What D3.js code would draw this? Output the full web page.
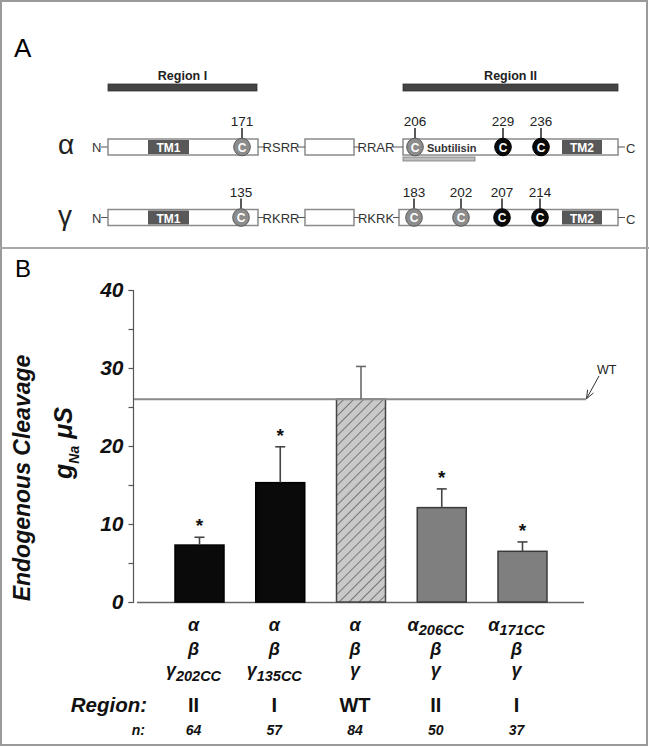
<!DOCTYPE html>
<html><head><meta charset="utf-8">
<script src="https://cdn.jsdelivr.net/npm/d3@7"></script>
<style>
html,body{margin:0;padding:0;background:#fff;}
svg{display:block;}
text{font-family:"Liberation Sans",Arial,sans-serif;}
</style></head>
<body>
<script>
// ---------- DATA ----------
const categories = ["α β γ202CC", "α β γ135CC", "α β γ", "α206CC β γ", "α171CC β γ"];
const alphaSubs = ["", "", "", "206CC", "171CC"];
const gammaSubs = ["202CC", "135CC", "", "", ""];
const meanValues = [7.3, 15.3, 26.0, 12.1, 6.5];
const semValues = [1.0, 4.6, 4.2, 2.4, 1.2];
const regionLabels = ["II", "I", "WT", "II", "I"];
const nValues = [64, 57, 84, 50, 37];
const significant = [true, true, false, true, true];
const wtValue = 26;
const yTicks = [0, 10, 20, 30, 40];
const yMinorTicks = [5, 15, 25, 35];

// Panel A schematic content
const alphaSites = ["171", "206", "229", "236"];
const gammaSites = ["135", "183", "202", "207", "214"];
const alphaLinkers = ["RSRR", "RRAR"];
const gammaLinkers = ["RKRR", "RKRK"];

// ---------- SETUP ----------
const W = 649, H = 747;
const svg = d3.select("body").append("svg").attr("width", W).attr("height", H);
const defs = svg.append("defs");
const pat = defs.append("pattern").attr("id", "hatch").attr("patternUnits", "userSpaceOnUse")
  .attr("width", 7).attr("height", 7).attr("patternTransform", "rotate(45)");
pat.append("rect").attr("width", 7).attr("height", 7).attr("fill", "#c9c9c9");
pat.append("line").attr("x1", 0).attr("y1", 0).attr("x2", 0).attr("y2", 7)
  .attr("stroke", "#333").attr("stroke-width", 1.1);

svg.append("rect").attr("x", 1).attr("y", 1).attr("width", W - 3).attr("height", H - 3)
  .attr("fill", "none").attr("stroke", "#9a9a9a").attr("stroke-width", 2);
svg.append("line").attr("x1", 0).attr("x2", W).attr("y1", 248).attr("y2", 248)
  .attr("stroke", "#a8a8a8").attr("stroke-width", 2);

// ---------- PANEL A ----------
const A = svg.append("g");
A.append("text").attr("x", 14).attr("y", 57).attr("font-size", 26).text("A");

function regionBar(x0, x1, label) {
  A.append("rect").attr("x", x0).attr("y", 84).attr("width", x1 - x0).attr("height", 7)
    .attr("fill", "#444").attr("stroke", "#333").attr("stroke-width", 0.8);
  A.append("text").attr("x", (x0 + x1) / 2).attr("y", 80).attr("text-anchor", "middle")
    .attr("font-size", 12.5).attr("font-weight", "bold").attr("fill", "#222").text(label);
}
regionBar(108, 257, "Region I");
regionBar(403, 618, "Region II");

function proteinRow(cy, greek, linkers, box3x0, sites) {
  const g = A.append("g");
  const bh = 16, top = cy - bh / 2;
  g.append("text").attr("x", 58).attr("y", cy + 7).attr("font-family", "Liberation Serif, Times New Roman, serif")
    .attr("font-size", 28).attr("fill", "#222").text(greek);
  g.append("text").attr("x", 92).attr("y", cy + 5).attr("font-size", 13).attr("fill", "#333").text("N");
  const lineSeg = (a, b) => g.append("line").attr("x1", a).attr("x2", b).attr("y1", cy).attr("y2", cy)
    .attr("stroke", "#555").attr("stroke-width", 1);
  lineSeg(101, 108);
  const box = (a, b) => g.append("rect").attr("x", a).attr("y", top).attr("width", b - a).attr("height", bh)
    .attr("fill", "#fff").attr("stroke", "#8a8a8a").attr("stroke-width", 1.5);
  box(108, 258); box(305, 354); box(box3x0, 618);
  lineSeg(258, 264); lineSeg(298, 305); lineSeg(354, 359); lineSeg(393, box3x0);
  g.append("text").attr("x", 281).attr("y", cy + 5).attr("text-anchor", "middle").attr("font-size", 13).attr("fill", "#333").text(linkers[0]);
  g.append("text").attr("x", 376).attr("y", cy + 5).attr("text-anchor", "middle").attr("font-size", 13).attr("fill", "#333").text(linkers[1]);
  lineSeg(618, 625);
  g.append("text").attr("x", 626).attr("y", cy + 6).attr("font-size", 13).attr("fill", "#333").text("C");
  const tm = (a, b, t) => {
    g.append("rect").attr("x", a).attr("y", top + 1).attr("width", b - a).attr("height", bh - 2).attr("fill", "#585858");
    g.append("text").attr("x", (a + b) / 2).attr("y", cy + 5).attr("text-anchor", "middle")
      .attr("font-size", 12).attr("font-weight", "bold").attr("fill", "#fff").text(t);
  };
  tm(148, 189, "TM1"); tm(562, 602, "TM2");
  sites.forEach(s => {
    g.append("line").attr("x1", s.x).attr("x2", s.x).attr("y1", top - 11).attr("y2", top - 1)
      .attr("stroke", "#222").attr("stroke-width", 1.5);
    g.append("text").attr("x", s.x).attr("y", top - 13).attr("text-anchor", "middle")
      .attr("font-size", 13.5).attr("fill", "#222").text(s.label);
    g.append("ellipse").attr("cx", s.x).attr("cy", cy).attr("rx", 8.3).attr("ry", 8.8)
      .attr("fill", s.black ? "#0a0a0a" : "#8c8c8c").attr("stroke", s.black ? "#000" : "#5a5a5a").attr("stroke-width", 1);
    g.append("text").attr("x", s.x).attr("y", cy + 4.5).attr("text-anchor", "middle")
      .attr("font-size", 12).attr("font-weight", "bold").attr("fill", "#fff").text("C");
  });
  return g;
}
const alphaX = [242, 415, 503, 541];
const gammaX = [241, 414, 461, 502, 540];
proteinRow(147, "α", alphaLinkers, 403,
  alphaSites.map((l, i) => ({label: l, x: alphaX[i], black: i >= 2})));
proteinRow(217.5, "γ", gammaLinkers, 399,
  gammaSites.map((l, i) => ({label: l, x: gammaX[i], black: i >= 3})));
// subtilisin
A.append("text").attr("x", 427).attr("y", 152).attr("font-size", 11).attr("font-weight", "bold").attr("fill", "#333").text("Subtilisin");
A.append("rect").attr("x", 403).attr("y", 157).attr("width", 72).attr("height", 4)
  .attr("fill", "#bdbdbd").attr("stroke", "#7a7a7a").attr("stroke-width", 0.8);

// ---------- PANEL B ----------
const B = svg.append("g");
B.append("text").attr("x", 15).attr("y", 277).attr("font-size", 24).text("B");

const y = d3.scaleLinear().domain([0, 40]).range([602, 290]);
const x = d3.scalePoint().domain(categories).range([199.5, 522.5]);
const barW = 49;
const fill = d3.scaleOrdinal().domain(categories)
  .range(["#0a0a0a", "#0a0a0a", "url(#hatch)", "#7f7f7f", "#7f7f7f"]);
const edge = d3.scaleOrdinal().domain(categories)
  .range(["#000", "#000", "#444", "#3a3a3a", "#3a3a3a"]);

// y axis
const yAxis = d3.axisLeft(y).tickValues(yTicks.concat(yMinorTicks)).tickSize(5).tickPadding(5)
  .tickFormat(d => yTicks.includes(d) ? d : "");
const ya = B.append("g").attr("transform", "translate(133.5,0)").call(yAxis);
ya.select(".domain").attr("stroke", "#555").attr("stroke-width", 1.2).attr("d", "M-5,290.5H0V602.5H-5");
ya.selectAll(".tick line").attr("stroke", "#555").attr("stroke-width", 1.2);
ya.selectAll(".tick text").attr("font-family", "Liberation Sans, Arial, sans-serif").attr("font-size", 21)
  .attr("font-weight", "bold").attr("font-style", "italic").attr("fill", "#111");

// x axis baseline
B.append("line").attr("x1", 137).attr("x2", 584).attr("y1", y(0) + 0.5).attr("y2", y(0) + 0.5)
  .attr("stroke", "#666").attr("stroke-width", 1.5);

// bars
B.selectAll("rect.bar").data(categories).join("rect").attr("class", "bar")
  .attr("x", d => x(d) - barW / 2).attr("width", barW)
  .attr("y", (d, i) => y(meanValues[i])).attr("height", (d, i) => y(0) - y(meanValues[i]))
  .attr("fill", d => fill(d)).attr("stroke", d => edge(d)).attr("stroke-width", 1.5);

// WT reference line
B.append("line").attr("x1", 134).attr("x2", 586).attr("y1", y(wtValue)).attr("y2", y(wtValue))
  .attr("stroke", "#8a8a8a").attr("stroke-width", 2);

// error bars
const eb = B.selectAll("g.err").data(categories).join("g").attr("class", "err");
eb.append("line").attr("x1", d => x(d)).attr("x2", d => x(d))
  .attr("y1", (d, i) => y(meanValues[i])).attr("y2", (d, i) => y(meanValues[i] + semValues[i]))
  .attr("stroke", (d, i) => i === 2 ? "#6a6a6a" : "#444").attr("stroke-width", 1.6);
eb.append("line").attr("x1", d => x(d) - 5).attr("x2", d => x(d) + 5)
  .attr("y1", (d, i) => y(meanValues[i] + semValues[i])).attr("y2", (d, i) => y(meanValues[i] + semValues[i]))
  .attr("stroke", (d, i) => i === 2 ? "#6a6a6a" : "#444").attr("stroke-width", 1.6);

// significance stars
B.selectAll("text.star").data(categories.filter((d, i) => significant[i])).join("text").attr("class", "star")
  .attr("x", d => x(d)).attr("y", d => { const i = categories.indexOf(d); return y(meanValues[i] + semValues[i]) - 5; })
  .attr("text-anchor", "middle").attr("font-size", 19).attr("font-weight", "bold").attr("fill", "#111").text("*");

// WT label with arrow
B.append("text").attr("x", 597).attr("y", 374).attr("font-size", 12.5).attr("fill", "#222").text("WT");
const ax0 = 599, ay0 = 376, ax1 = 586.5, ay1 = y(wtValue) - 0.5;
B.append("line").attr("x1", ax0).attr("y1", ay0).attr("x2", ax1).attr("y2", ay1).attr("stroke", "#333").attr("stroke-width", 1);
{
  const ang = Math.atan2(ay1 - ay0, ax1 - ax0), L = 9, s = 0.38;
  const p = a => [ax1 - L * Math.cos(ang + a), ay1 - L * Math.sin(ang + a)];
  const [p1, p2] = [p(s), p(-s)];
  B.append("path").attr("d", `M${p1[0]},${p1[1]}L${ax1},${ay1}L${p2[0]},${p2[1]}`)
    .attr("fill", "none").attr("stroke", "#333").attr("stroke-width", 1);
}

// y titles
B.append("text").attr("transform", "translate(30,478) rotate(-90)").attr("text-anchor", "middle")
  .attr("font-size", 23).attr("font-weight", "bold").attr("font-style", "italic").attr("fill", "#111")
  .text("Endogenous Cleavage");
const gt = B.append("text").attr("transform", "translate(72,443) rotate(-90)").attr("text-anchor", "middle")
  .attr("font-weight", "bold").attr("font-style", "italic").attr("fill", "#111");
gt.append("tspan").attr("font-size", 25).text("g");
gt.append("tspan").attr("font-size", 14).attr("dy", 7).text("Na");
gt.append("tspan").attr("font-size", 25).attr("dy", -7).text(" μS");

// category labels
const lab = B.append("g").attr("font-weight", "bold").attr("font-style", "italic").attr("fill", "#111");
const lx = d => x(d) - 6;
categories.forEach((c, i) => {
  const t1 = lab.append("text").attr("x", lx(c)).attr("y", 631).attr("text-anchor", "middle");
  t1.append("tspan").attr("font-size", 18).text("α");
  if (alphaSubs[i]) t1.append("tspan").attr("font-size", 14.5).attr("dy", 4).text(alphaSubs[i]);
  lab.append("text").attr("x", lx(c)).attr("y", 655).attr("text-anchor", "middle").attr("font-size", 18).text("β");
  const t3 = lab.append("text").attr("x", lx(c)).attr("y", 676).attr("text-anchor", "middle");
  t3.append("tspan").attr("font-size", 18).text("γ");
  if (gammaSubs[i]) t3.append("tspan").attr("font-size", 14.5).attr("dy", 5).text(gammaSubs[i]);
  lab.append("text").attr("x", lx(c)).attr("y", 712).attr("text-anchor", "middle").attr("font-size", 20)
    .attr("font-style", "normal").text(regionLabels[i]);
  lab.append("text").attr("x", lx(c)).attr("y", 735).attr("text-anchor", "middle").attr("font-size", 14).text(nValues[i]);
});
lab.append("text").attr("x", 147).attr("y", 712).attr("text-anchor", "end").attr("font-size", 20.5).text("Region:");
lab.append("text").attr("x", 145).attr("y", 735).attr("text-anchor", "end").attr("font-size", 14).text("n:");
</script>
</body></html>
